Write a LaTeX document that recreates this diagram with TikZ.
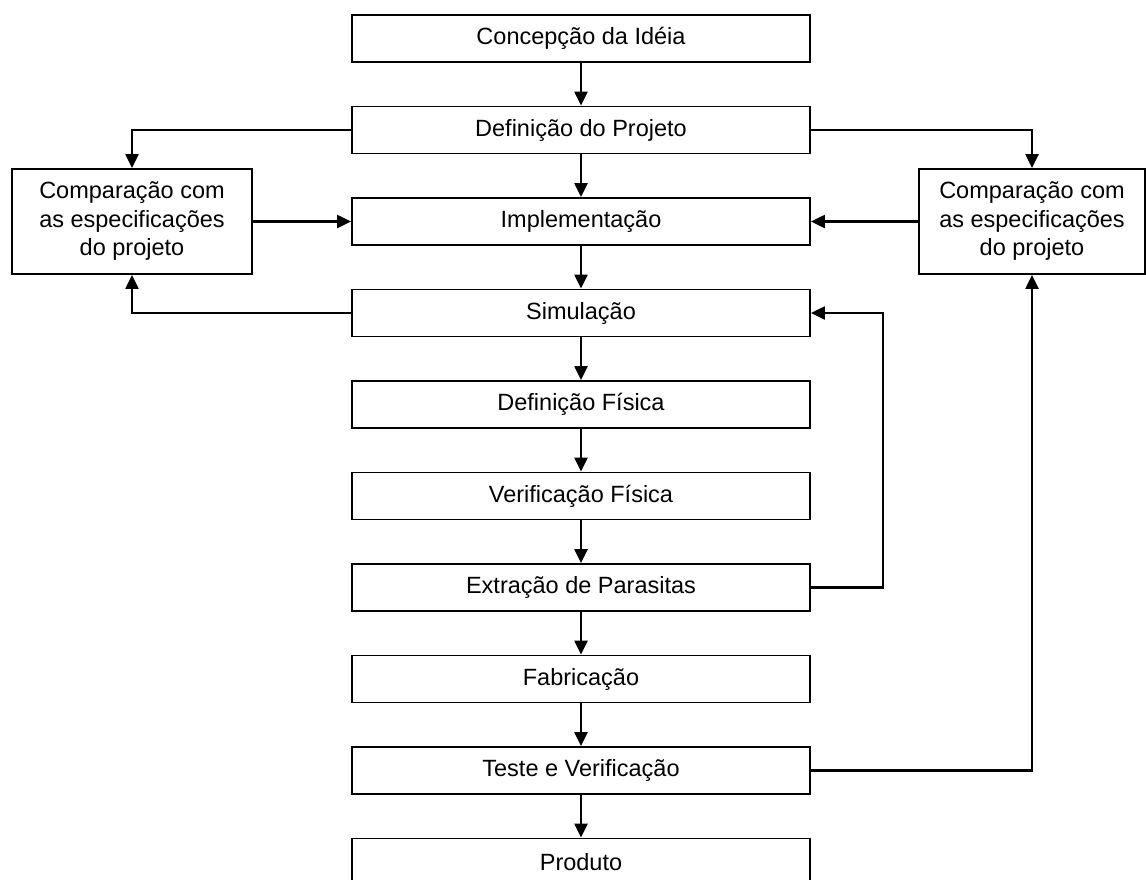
\documentclass[tikz,border=0pt]{standalone}
\usepackage{fontspec}
\setmainfont{Liberation Sans}
\usetikzlibrary{arrows.meta}

\begin{document}
\begin{tikzpicture}[x=1pt,y=-1pt,
	etapa/.style={draw, line width=1.8pt, minimum width=458pt, minimum height=47pt, inner sep=0pt, font=\fontsize{23.5}{28.5}\selectfont},
	compara/.style={draw, line width=1.8pt, minimum height=105pt, inner sep=0pt, align=center, font=\fontsize{23.5}{28.5}\selectfont},
	seta/.style={line width=2.2pt, -{Triangle[length=14pt,width=13pt]}}]
	\useasboundingbox (0,0) rectangle (1146,879);

	% fluxo principal
	\node[etapa] (ideia) at (581,38.5) {Concepção da Idéia};
	\node[etapa] (projeto) at (581,130) {Definição do Projeto};
	\node[etapa] (impl) at (581,221.5) {Implementação};
	\node[etapa] (sim) at (581,313) {Simulação};
	\node[etapa] (fisica) at (581,404.5) {Definição Física};
	\node[etapa] (verif) at (581,496) {Verificação Física};
	\node[etapa] (extr) at (581,587.5) {Extração de Parasitas};
	\node[etapa] (fabr) at (581,679) {Fabricação};
	\node[etapa] (teste) at (581,770.5) {Teste e Verificação};
	\node[etapa] (produto) at (581,862) {Produto};

	% comparacoes
	\node[compara, minimum width=240pt] (compE) at (132,221.5) {Comparação com\\as especificações\\do projeto};
	\node[compara, minimum width=226pt] (compD) at (1032,221.5) {Comparação com\\as especificações\\do projeto};

	\coordinate (laco) at (883,0);

	\draw[seta] (ideia) -- (projeto);
	\draw[seta] (projeto) -- (impl);
	\draw[seta] (impl) -- (sim);
	\draw[seta] (sim) -- (fisica);
	\draw[seta] (fisica) -- (verif);
	\draw[seta] (verif) -- (extr);
	\draw[seta] (extr) -- (fabr);
	\draw[seta] (fabr) -- (teste);
	\draw[seta] (teste) -- (produto);

	\draw[seta] (projeto.west) -| (compE.north);
	\draw[seta] (projeto.east) -| (compD.north);
	\draw[seta] (compE.east) -- (impl.west);
	\draw[seta] (compD.west) -- (impl.east);
	\draw[seta] (sim.west) -| (compE.south);
	\draw[seta] (extr.east) -- (extr.east -| laco) |- (sim.east);
	\draw[seta] (teste.east) -| (compD.south);

\end{tikzpicture}
\end{document}
